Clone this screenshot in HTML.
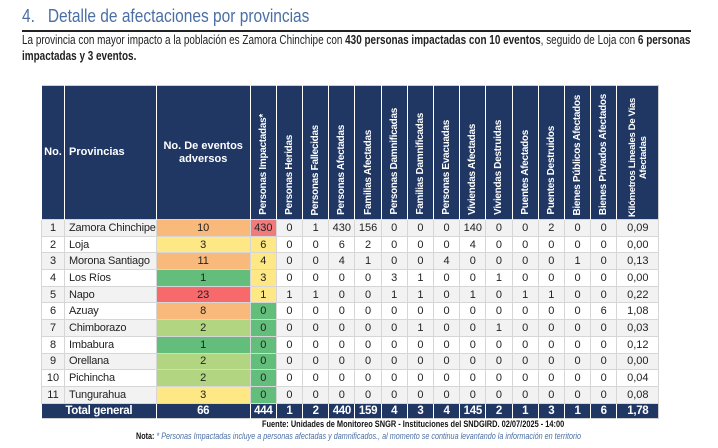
<!DOCTYPE html>
<html><head><meta charset="utf-8"><style>
body{margin:0;width:718px;height:448px;background:#fff;font-family:"Liberation Sans Narrow","Liberation Sans",sans-serif;position:relative;overflow:hidden}
.t{position:absolute;left:22px;top:6px;font-size:18px;color:#4a6fa5;transform:scaleX(0.86);transform-origin:left;white-space:nowrap}
.hr{position:absolute;left:22px;top:30px;width:669px;height:1.5px;background:#222}
.p{position:absolute;left:22px;top:32px;font-size:12.5px;line-height:16px;color:#222;transform:scaleX(0.795);transform-origin:left top;white-space:nowrap}
table{position:absolute;left:41px;top:85px;border-collapse:collapse;table-layout:fixed;font-size:11px;border:1px solid #d0d0d0}
td,th{padding:0;text-align:center;overflow:hidden;white-space:nowrap}
th{background:#203764;color:#fff;border-left:1px solid #fff;height:133px;vertical-align:middle;font-size:11px;line-height:13px}
th.v{vertical-align:bottom;padding-bottom:4px;height:129px}
th.v div{writing-mode:vertical-rl;transform:rotate(180deg);margin:0 auto;line-height:11px;font-size:10px;letter-spacing:-0.3px;max-height:128px;overflow:hidden}
tbody td{height:15.7px;line-height:14px;border:1px solid #d6d6d6;color:#222}
tbody tr:nth-child(odd) td{background:#f2f2f2}
td.l{text-align:left;padding-left:4px;letter-spacing:-0.2px}
tbody tr td.o{background:#f9b97a}tbody tr td.y{background:#fde885}tbody tr td.g{background:#63be7b}tbody tr td.r{background:#f8696b}tbody tr td.lg{background:#b1d580}tbody tr td.pr{background:#f07b7d}
tfoot td{background:#203764;color:#fff;font-weight:bold;height:14px;line-height:14px;border-left:1px solid #fff;font-size:11.5px;letter-spacing:-0.3px}
.f1{position:absolute;left:262px;top:419px;font-size:9.5px;font-weight:bold;color:#111;white-space:nowrap;transform:scaleX(0.78);transform-origin:left}
.f2{position:absolute;left:136px;top:431px;font-size:9px;color:#4a6fa5;font-style:italic;white-space:nowrap;transform:scaleX(0.8);transform-origin:left}
.f2 b{color:#111;font-style:normal}
</style></head><body>
<div class="t">4.&nbsp;&nbsp; Detalle de afectaciones por provincias</div>
<div class="hr"></div>
<div class="p">La provincia con mayor impacto a la población es Zamora Chinchipe con <b>430 personas impactadas con 10 eventos</b>, seguido de Loja con <b>6 personas</b><br><b>impactadas y 3 eventos.</b></div>
<table>
<colgroup><col style="width:23px"><col style="width:90px"><col style="width:94px"><col span="14" style="width:26.2px"><col style="width:42px"></colgroup>
<thead><tr>
<th>No.</th><th style="text-align:left;padding-left:4px">Provincias</th><th style="white-space:normal">No. De eventos<br>adversos</th>
<th class="v"><div>Personas Impactadas*</div></th><th class="v"><div>Personas Heridas</div></th><th class="v"><div>Personas Fallecidas</div></th><th class="v"><div>Personas Afectadas</div></th><th class="v"><div>Familias Afectadas</div></th><th class="v"><div>Personas Damnificadas</div></th><th class="v"><div>Familias Damnificadas</div></th><th class="v"><div>Personas Evacuadas</div></th><th class="v"><div>Viviendas Afectadas</div></th><th class="v"><div>Viviendas Destruidas</div></th><th class="v"><div>Puentes Afectados</div></th><th class="v"><div>Puentes Destruidos</div></th><th class="v"><div>Bienes Públicos Afectados</div></th><th class="v"><div>Bienes Privados Afectados</div></th><th class="v" style="padding-bottom:2px"><div style="text-align:center;font-size:9.5px">Kilómetros Lineales De Vías<br>Afectadas</div></th>
</tr></thead>
<tbody>
<tr><td>1</td><td class="l">Zamora Chinchipe</td><td class="o">10</td><td class="pr">430</td><td>0</td><td>1</td><td>430</td><td>156</td><td>0</td><td>0</td><td>0</td><td>140</td><td>0</td><td>0</td><td>2</td><td>0</td><td>0</td><td>0,09</td></tr>
<tr><td>2</td><td class="l">Loja</td><td class="y">3</td><td class="y">6</td><td>0</td><td>0</td><td>6</td><td>2</td><td>0</td><td>0</td><td>0</td><td>4</td><td>0</td><td>0</td><td>0</td><td>0</td><td>0</td><td>0,00</td></tr>
<tr><td>3</td><td class="l">Morona Santiago</td><td class="o">11</td><td class="y">4</td><td>0</td><td>0</td><td>4</td><td>1</td><td>0</td><td>0</td><td>4</td><td>0</td><td>0</td><td>0</td><td>0</td><td>1</td><td>0</td><td>0,13</td></tr>
<tr><td>4</td><td class="l">Los Ríos</td><td class="g">1</td><td class="y">3</td><td>0</td><td>0</td><td>0</td><td>0</td><td>3</td><td>1</td><td>0</td><td>0</td><td>1</td><td>0</td><td>0</td><td>0</td><td>0</td><td>0,00</td></tr>
<tr><td>5</td><td class="l">Napo</td><td class="r">23</td><td class="y">1</td><td>1</td><td>1</td><td>0</td><td>0</td><td>1</td><td>1</td><td>0</td><td>1</td><td>0</td><td>1</td><td>1</td><td>0</td><td>0</td><td>0,22</td></tr>
<tr><td>6</td><td class="l">Azuay</td><td class="o">8</td><td class="g">0</td><td>0</td><td>0</td><td>0</td><td>0</td><td>0</td><td>0</td><td>0</td><td>0</td><td>0</td><td>0</td><td>0</td><td>0</td><td>6</td><td>1,08</td></tr>
<tr><td>7</td><td class="l">Chimborazo</td><td class="lg">2</td><td class="g">0</td><td>0</td><td>0</td><td>0</td><td>0</td><td>0</td><td>1</td><td>0</td><td>0</td><td>1</td><td>0</td><td>0</td><td>0</td><td>0</td><td>0,03</td></tr>
<tr><td>8</td><td class="l">Imbabura</td><td class="g">1</td><td class="g">0</td><td>0</td><td>0</td><td>0</td><td>0</td><td>0</td><td>0</td><td>0</td><td>0</td><td>0</td><td>0</td><td>0</td><td>0</td><td>0</td><td>0,12</td></tr>
<tr><td>9</td><td class="l">Orellana</td><td class="lg">2</td><td class="g">0</td><td>0</td><td>0</td><td>0</td><td>0</td><td>0</td><td>0</td><td>0</td><td>0</td><td>0</td><td>0</td><td>0</td><td>0</td><td>0</td><td>0,00</td></tr>
<tr><td>10</td><td class="l">Pichincha</td><td class="lg">2</td><td class="g">0</td><td>0</td><td>0</td><td>0</td><td>0</td><td>0</td><td>0</td><td>0</td><td>0</td><td>0</td><td>0</td><td>0</td><td>0</td><td>0</td><td>0,04</td></tr>
<tr><td>11</td><td class="l">Tungurahua</td><td class="y">3</td><td class="g">0</td><td>0</td><td>0</td><td>0</td><td>0</td><td>0</td><td>0</td><td>0</td><td>0</td><td>0</td><td>0</td><td>0</td><td>0</td><td>0</td><td>0,08</td></tr>
</tbody>
<tfoot><tr><td colspan="2">Total general</td><td>66</td><td>444</td><td>1</td><td>2</td><td>440</td><td>159</td><td>4</td><td>3</td><td>4</td><td>145</td><td>2</td><td>1</td><td>3</td><td>1</td><td>6</td><td>1,78</td></tr></tfoot>
</table>
<div class="f1">Fuente: Unidades de Monitoreo SNGR - Instituciones del SNDGIRD. 02/07/2025 - 14:00</div>
<div class="f2"><b>Nota:</b> * Personas Impactadas incluye a personas afectadas y damnificados., al momento se continua levantando la información en territorio</div>
</body></html>
